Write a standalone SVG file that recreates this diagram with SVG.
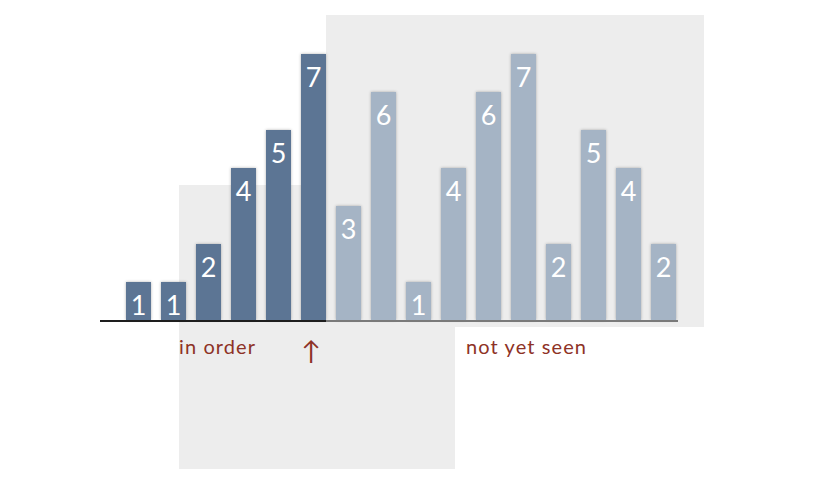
<svg xmlns="http://www.w3.org/2000/svg" width="819" height="500" viewBox="0 0 819 500">
<style>
.box{fill:#ededed}
.dark{fill:#5b7594;filter:url(#sh)}
.light{fill:#a5b4c5;filter:url(#sh)}
.num{font-family:Lato,"Open Sans",sans-serif;font-size:27px;fill:#fff;text-anchor:middle}
.lbl{font-family:Lato,"Open Sans",sans-serif;font-size:20px;letter-spacing:1.1px;fill:#8e3226}
</style>
<defs>
<filter id="sh" x="-30%" y="-10%" width="160%" height="120%">
<feDropShadow dx="0" dy="0" stdDeviation="1.5" flood-color="#000" flood-opacity="0.3"/>
</filter>
</defs>
<rect class="box" x="179" y="185" width="276" height="284"/>
<rect class="box" x="326" y="15" width="378" height="312"/>
<g id="bars">
<g id="b0"><rect class="dark" x="126" y="282" width="25" height="38"/><text class="num" x="138.5" y="315">1</text></g>
<g id="b1"><rect class="dark" x="161" y="282" width="25" height="38"/><text class="num" x="173.5" y="315">1</text></g>
<g id="b2"><rect class="dark" x="196" y="244" width="25" height="76"/><text class="num" x="208.5" y="277">2</text></g>
<g id="b3"><rect class="dark" x="231" y="168" width="25" height="152"/><text class="num" x="243.5" y="201">4</text></g>
<g id="b4"><rect class="dark" x="266" y="130" width="25" height="190"/><text class="num" x="278.5" y="163">5</text></g>
<g id="b5"><rect class="dark" x="301" y="54" width="25" height="266"/><text class="num" x="313.5" y="87">7</text></g>
<g id="b6"><rect class="light" x="336" y="206" width="25" height="114"/><text class="num" x="348.5" y="239">3</text></g>
<g id="b7"><rect class="light" x="371" y="92" width="25" height="228"/><text class="num" x="383.5" y="125">6</text></g>
<g id="b8"><rect class="light" x="406" y="282" width="25" height="38"/><text class="num" x="418.5" y="315">1</text></g>
<g id="b9"><rect class="light" x="441" y="168" width="25" height="152"/><text class="num" x="453.5" y="201">4</text></g>
<g id="b10"><rect class="light" x="476" y="92" width="25" height="228"/><text class="num" x="488.5" y="125">6</text></g>
<g id="b11"><rect class="light" x="511" y="54" width="25" height="266"/><text class="num" x="523.5" y="87">7</text></g>
<g id="b12"><rect class="light" x="546" y="244" width="25" height="76"/><text class="num" x="558.5" y="277">2</text></g>
<g id="b13"><rect class="light" x="581" y="130" width="25" height="190"/><text class="num" x="593.5" y="163">5</text></g>
<g id="b14"><rect class="light" x="616" y="168" width="25" height="152"/><text class="num" x="628.5" y="201">4</text></g>
<g id="b15"><rect class="light" x="651" y="244" width="25" height="76"/><text class="num" x="663.5" y="277">2</text></g>
</g>
<g id="axis">
<line x1="100" y1="321" x2="326" y2="321" stroke="#1e1e1e" stroke-width="2"/>
<line x1="326" y1="321" x2="678" y2="321" stroke="#7a7a7a" stroke-width="2"/>
</g>
<g id="labels">
<text class="lbl" x="179" y="354">in order</text>
<text class="lbl" x="311" y="360" text-anchor="middle" style="font-size:26px;letter-spacing:0">↑</text>
<text class="lbl" x="466" y="354">not yet seen</text>
</g>
</svg>
